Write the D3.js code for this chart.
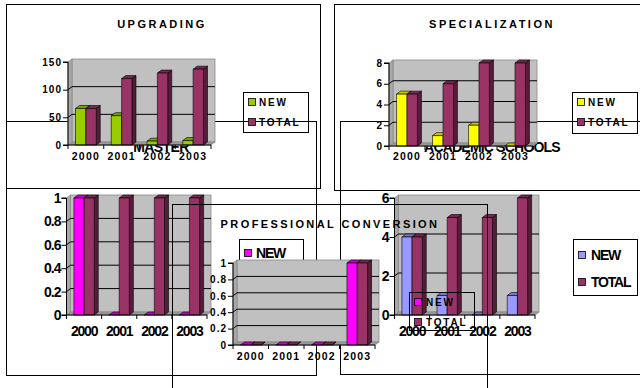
<!DOCTYPE html>
<html><head><meta charset="utf-8">
<script src="https://cdn.jsdelivr.net/npm/d3@7"></script>
<style>html,body{margin:0;padding:0;background:#fff;} svg{display:block;}</style>
</head><body>
<svg id="c" width="640" height="388"></svg>
<script>
// ---- data ----
const years = ["2000", "2001", "2002", "2003"];
const seriesNames = ["NEW", "TOTAL"];

const upgradingNew = [66, 53, 7, 8];
const upgradingTotal = [66, 120, 130, 137];
const upgradingTicks = [0, 50, 100, 150];

const specNew = [5, 1, 2, 0];
const specTotal = [5, 6, 8, 8];
const specTicks = [0, 2, 4, 6, 8];

const masterNew = [1, 0, 0, 0];
const masterTotal = [1, 1, 1, 1];
const masterTicks = [0, 0.2, 0.4, 0.6, 0.8, 1];

const academicNew = [4, 1, 0, 1];
const academicTotal = [4, 5, 5, 6];
const academicTicks = [0, 2, 4, 6];

const convNew = [0, 0, 0, 1];
const convTotal = [0, 0, 0, 1];
const convTicks = [0, 0.2, 0.4, 0.6, 0.8, 1];

// ---- drawing ----
const FONT = "'Liberation Sans', Arial, sans-serif";
const TOTAL_COLOR = "#993366";
const svg = d3.select("#c");

function decimalFmt(d) { return (d === 0 || d === 1) ? String(d) : d.toFixed(1); }

function drawPanel(cfg) {
  const g = svg.append("g");
  const [fx0, fy0, fx1, fy1] = cfg.frame;

  // frame (no fill)
  g.append("rect")
    .attr("x", fx0 + 0.5).attr("y", fy0 + 0.5)
    .attr("width", fx1 - fx0).attr("height", fy1 - fy0)
    .attr("fill", "none").attr("stroke", "#000").attr("stroke-width", 1);

  // title
  g.append("text")
    .attr("x", cfg.title.x).attr("y", cfg.title.y)
    .attr("text-anchor", "middle").attr("dominant-baseline", "central")
    .attr("font-family", FONT).attr("font-weight", "bold")
    .attr("font-size", cfg.title.size).attr("letter-spacing", cfg.title.ls)
    .text(cfg.title.text);

  const p = cfg.plot;
  const D = 4, DY = 3;
  const x = d3.scaleBand().domain(years).range([p.x0, p.x1]);
  const y = d3.scaleLinear().domain([0, p.max]).range([p.yB, p.yT]);
  const pg = g.append("g");

  // back wall
  pg.append("rect")
    .attr("x", p.x0 + D).attr("y", y(p.max) - DY)
    .attr("width", p.x1 - p.x0).attr("height", y(0) - y(p.max))
    .attr("fill", "#C0C0C0").attr("stroke", "#8a8a8a").attr("stroke-width", 0.8);
  // left wall
  pg.append("path")
    .attr("d", `M${p.x0},${y(0)}L${p.x0},${y(p.max)}L${p.x0 + D},${y(p.max) - DY}L${p.x0 + D},${y(0) - DY}Z`)
    .attr("fill", "#A8A8A8").attr("stroke", "#8a8a8a").attr("stroke-width", 0.8);
  // floor
  pg.append("path")
    .attr("d", `M${p.x0},${y(0)}L${p.x0 + D},${y(0) - DY}L${p.x1 + D},${y(0) - DY}L${p.x1},${y(0)}Z`)
    .attr("fill", "#9A9A9A").attr("stroke", "#8a8a8a").attr("stroke-width", 0.8);

  // gridlines across the left and back walls
  pg.selectAll("path.grid").data(p.ticks.filter(t => t > 0 && t < p.max)).join("path")
    .attr("class", "grid")
    .attr("d", t => `M${p.x0},${y(t)}L${p.x0 + D},${y(t) - DY}L${p.x1 + D},${y(t) - DY}`)
    .attr("fill", "none").attr("stroke", "#000").attr("stroke-width", 1);

  // bars
  const series = [
    { name: seriesNames[0], values: cfg.newValues, color: cfg.newColor },
    { name: seriesNames[1], values: cfg.totalValues, color: TOTAL_COLOR }
  ];
  const bw = x.bandwidth() * 0.29;
  const bars = [];
  years.forEach((yr, i) => {
    series.forEach((s, si) => {
      bars.push({ yr, v: s.values[i], color: s.color, si });
    });
  });
  const bx = d => x(d.yr) + x.bandwidth() / 2 - bw + d.si * bw;
  const bg = pg.selectAll("g.bar").data(bars).join("g").attr("class", "bar");
  const edge = { stroke: "#000", "stroke-width": 0.6, "stroke-linejoin": "round" };
  function applyEdge(sel) { Object.entries(edge).forEach(([k, v]) => sel.attr(k, v)); return sel; }
  applyEdge(bg.append("path")
    .attr("d", d => {
      const xr = bx(d) + bw, yt = y(d.v), yb = y(0);
      return `M${xr},${yb}L${xr + D},${yb - DY}L${xr + D},${yt - DY}L${xr},${yt}Z`;
    })
    .attr("fill", d => d3.color(d.color).darker(1.6)));
  applyEdge(bg.append("path")
    .attr("d", d => {
      const xl = bx(d), yt = y(d.v);
      return `M${xl},${yt}L${xl + D},${yt - DY}L${xl + bw + D},${yt - DY}L${xl + bw},${yt}Z`;
    })
    .attr("fill", d => d3.color(d.color).darker(0.7)));
  applyEdge(bg.append("rect")
    .attr("x", d => bx(d)).attr("y", d => y(d.v))
    .attr("width", bw).attr("height", d => y(0) - y(d.v))
    .attr("fill", d => d.color));

  // y axis
  const yAxis = d3.axisLeft(y).tickValues(p.ticks).tickSize(5).tickPadding(1)
    .tickFormat(cfg.fmt || (d => d));
  const ya = pg.append("g").attr("transform", `translate(${p.x0},0)`).call(yAxis);
  ya.select(".domain").attr("stroke", "#000").attr("d", `M-5,${y(p.max)}H0V${y(0)}H-5`);
  ya.selectAll("text")
    .attr("font-family", FONT).attr("font-weight", "bold")
    .attr("font-size", cfg.axisFont.size).attr("letter-spacing", cfg.axisFont.ls)
    .attr("fill", "#000");

  // x axis: line, tick marks at category boundaries, labels centred
  const xa = d3.axisBottom(x).tickSize(0).tickPadding(cfg.xPad);
  const xg = pg.append("g").attr("transform", `translate(0,${y(0)})`).call(xa);
  xg.select(".domain").attr("stroke", "#000").attr("d", `M${p.x0},0H${p.x1}`);
  xg.selectAll("text")
    .attr("font-family", FONT).attr("font-weight", "bold")
    .attr("font-size", cfg.axisFont.xsize || cfg.axisFont.size)
    .attr("letter-spacing", cfg.axisFont.xls).attr("fill", "#000");
  const bounds = years.map(v => x(v)).concat([p.x1]);
  xg.selectAll("line.b").data(bounds).join("line").attr("class", "b")
    .attr("x1", d => d).attr("x2", d => d).attr("y1", 0).attr("y2", 4)
    .attr("stroke", "#000");

  // legend (transparent box)
  const L = cfg.legend;
  const lg = g.append("g");
  lg.append("rect").attr("x", L.x + 0.5).attr("y", L.y + 0.5)
    .attr("width", L.w).attr("height", L.h)
    .attr("fill", "none").attr("stroke", "#000").attr("stroke-width", 1);
  const items = lg.selectAll("g.item").data(series).join("g").attr("class", "item")
    .attr("transform", (d, i) => `translate(${L.x + 5},${L.y + L.rows[i]})`);
  items.append("rect").attr("x", 0.5).attr("y", -3.5).attr("width", L.sw).attr("height", L.sw)
    .attr("fill", d => d.color).attr("stroke", "#000").attr("stroke-width", 0.8);
  items.append("text").attr("x", L.tx).attr("y", 0).attr("dominant-baseline", "central")
    .attr("font-family", FONT).attr("font-weight", "bold")
    .attr("font-size", L.size).attr("letter-spacing", L.ls)
    .text(d => d.name);
}

// lower row first, then the upper row and the centre panel on top
drawPanel({
  frame: [6, 121, 316, 375],
  title: { text: "MASTER", x: 161, y: 147, size: 14, ls: -0.6 },
  plot: { x0: 66.5, x1: 207, yB: 315, yT: 198, max: 1, ticks: masterTicks },
  fmt: decimalFmt,
  axisFont: { size: 14, ls: -1, xls: -1.2 },
  xPad: 11,
  newValues: masterNew, totalValues: masterTotal, newColor: "#FF00FF",
  legend: { x: 239, y: 239, w: 64, h: 52, rows: [14, 38], sw: 7, tx: 12, size: 14, ls: -1.2 }
});

drawPanel({
  frame: [340, 121, 645, 374],
  title: { text: "ACADEMIC SCHOOLS", x: 492, y: 147, size: 14, ls: -0.8 },
  plot: { x0: 394.5, x1: 535, yB: 315, yT: 198, max: 6, ticks: academicTicks },
  axisFont: { size: 14, ls: -1, xls: -1.2 },
  xPad: 11,
  newValues: academicNew, totalValues: academicTotal, newColor: "#9999FF",
  legend: { x: 573, y: 239, w: 64, h: 56, rows: [16, 43], sw: 7, tx: 13, size: 14, ls: -1.2 }
});

drawPanel({
  frame: [6, 4, 320, 188],
  title: { text: "UPGRADING", x: 162, y: 24, size: 11, ls: 2.5 },
  plot: { x0: 68, x1: 211, yB: 145, yT: 62, max: 150, ticks: upgradingTicks },
  axisFont: { size: 10, ls: 1, xsize: 10.5, xls: 1.2 },
  xPad: 8,
  newValues: upgradingNew, totalValues: upgradingTotal, newColor: "#99CC00",
  legend: { x: 243, y: 92, w: 65, h: 40, rows: [10, 30], sw: 7, tx: 11, size: 10, ls: 1.8 }
});

drawPanel({
  frame: [334, 4, 648, 190],
  title: { text: "SPECIALIZATION", x: 492, y: 24, size: 11, ls: 2.5 },
  plot: { x0: 389, x1: 533, yB: 146, yT: 63, max: 8, ticks: specTicks },
  axisFont: { size: 10, ls: 1, xsize: 10.5, xls: 1.2 },
  xPad: 7,
  newValues: specNew, totalValues: specTotal, newColor: "#FFFF00",
  legend: { x: 572, y: 92, w: 65, h: 41, rows: [10, 30], sw: 7, tx: 11, size: 10, ls: 1.8 }
});

drawPanel({
  frame: [172, 204, 487, 420],
  title: { text: "PROFESSIONAL CONVERSION", x: 330, y: 224, size: 11, ls: 2.4 },
  plot: { x0: 233, x1: 375, yB: 345, yT: 263, max: 1, ticks: convTicks },
  fmt: decimalFmt,
  axisFont: { size: 10, ls: 1, xsize: 10.5, xls: 1.2 },
  xPad: 8,
  newValues: convNew, totalValues: convTotal, newColor: "#FF00FF",
  legend: { x: 409, y: 292, w: 65, h: 38, rows: [10, 30], sw: 7, tx: 12, size: 10, ls: 1.8 }
});
</script>
</body></html>
